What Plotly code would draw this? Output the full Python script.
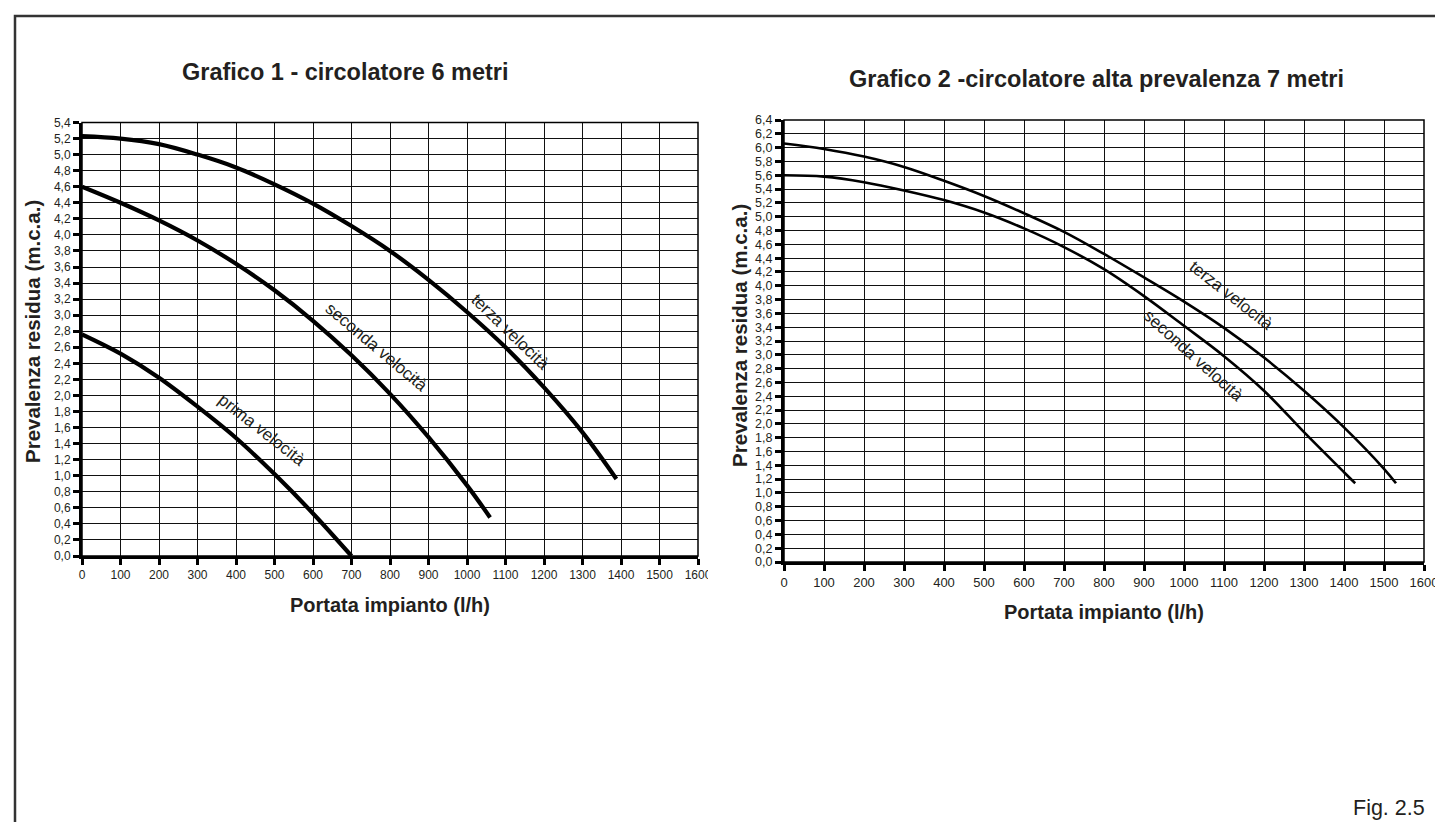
import plotly.graph_objects as go

W, H = 1443, 822

# ---------------- data ----------------
# Grafico 1 - circolatore 6 metri
g1_prima_x = [0, 100, 200, 300, 400, 500, 600, 700]
g1_prima_y = [2.76, 2.52, 2.22, 1.86, 1.47, 1.02, 0.53, 0.0]
g1_seconda_x = [0, 100, 200, 300, 400, 500, 600, 700, 800, 900, 1000, 1060]
g1_seconda_y = [4.60, 4.40, 4.18, 3.93, 3.64, 3.31, 2.93, 2.50, 2.02, 1.48, 0.88, 0.48]
g1_terza_x = [0, 100, 200, 300, 400, 500, 600, 700, 800, 900, 1000, 1100, 1200, 1300, 1388]
g1_terza_y = [5.23, 5.20, 5.13, 5.00, 4.84, 4.63, 4.39, 4.11, 3.80, 3.44, 3.04, 2.60, 2.10, 1.54, 0.96]

# Grafico 2 - circolatore alta prevalenza 7 metri
g2_seconda_x = [0, 100, 200, 300, 400, 500, 600, 700, 800, 900, 1000, 1100, 1200, 1300, 1400, 1428]
g2_seconda_y = [5.60, 5.58, 5.50, 5.38, 5.24, 5.06, 4.83, 4.56, 4.24, 3.85, 3.42, 2.98, 2.48, 1.88, 1.30, 1.14]
g2_terza_x = [0, 100, 200, 300, 400, 500, 600, 700, 800, 900, 1000, 1100, 1200, 1300, 1400, 1500, 1530]
g2_terza_y = [6.06, 5.98, 5.87, 5.72, 5.52, 5.30, 5.05, 4.78, 4.46, 4.12, 3.77, 3.39, 2.96, 2.48, 1.95, 1.35, 1.14]

# tick labels
x_tickvals = list(range(0, 1700, 100))
x_ticktext = [str(v) for v in x_tickvals]
y1_tickvals = [round(i * 0.2, 1) for i in range(28)]
y1_ticktext = [f"{v:.1f}".replace(".", ",") for v in y1_tickvals]
y2_tickvals = [round(i * 0.2, 1) for i in range(33)]
y2_ticktext = [f"{v:.1f}".replace(".", ",") for v in y2_tickvals]

# texts
title1 = "Grafico 1 - circolatore 6 metri"
title2 = "Grafico 2 -circolatore alta prevalenza 7 metri"
x_title = "Portata impianto (l/h)"
y_title = "Prevalenza residua (m.c.a.)"
fig_label = "Fig. 2.5"

# ---------------- style ----------------
FONT = "Liberation Sans, Arial, Helvetica, sans-serif"
TXT = "#231f20"


def px_x(p):
    return p / W


def px_y(p):
    return 1 - p / H


fig = go.Figure()

curve1 = dict(color="black", width=4.2, shape="spline", smoothing=1.0)
curve2 = dict(color="black", width=2.6, shape="spline", smoothing=1.0)

for xs, ys in [(g1_prima_x, g1_prima_y), (g1_seconda_x, g1_seconda_y), (g1_terza_x, g1_terza_y)]:
    fig.add_trace(go.Scatter(x=xs, y=ys, mode="lines", line=curve1,
                             xaxis="x", yaxis="y", showlegend=False, hoverinfo="skip"))
for xs, ys in [(g2_seconda_x, g2_seconda_y), (g2_terza_x, g2_terza_y)]:
    fig.add_trace(go.Scatter(x=xs, y=ys, mode="lines", line=curve2,
                             xaxis="x2", yaxis="y2", showlegend=False, hoverinfo="skip"))

common = dict(
    showgrid=True, gridcolor="#111111", gridwidth=1,
    showline=True, linecolor="black", linewidth=3,
    ticks="outside", ticklen=6, tickwidth=3, tickcolor="black",
    zeroline=False, fixedrange=True, automargin=False,
)

L_x0, L_x1, L_y0, L_y1 = 74, 690, 114.5, 548
R_x0, R_x1, R_y0, R_y1 = 776, 1416, 112, 554

fig.update_layout(
    width=W, height=H,
    margin=dict(l=0, r=0, t=0, b=0),
    paper_bgcolor="white", plot_bgcolor="white",
    showlegend=False,
    xaxis=dict(common, domain=[px_x(L_x0), px_x(L_x1)], range=[0, 1600],
               tickfont=dict(family=FONT, size=12, color=TXT),
               tickmode="array", tickvals=x_tickvals, ticktext=x_ticktext, anchor="y"),
    yaxis=dict(common, domain=[px_y(L_y1), px_y(L_y0)], range=[0, 5.4],
               tickfont=dict(family=FONT, size=12, color=TXT),
               tickmode="array", tickvals=y1_tickvals, ticktext=y1_ticktext, anchor="x"),
    xaxis2=dict(common, domain=[px_x(R_x0), px_x(R_x1)], range=[0, 1600],
                tickfont=dict(family=FONT, size=13, color=TXT),
                tickmode="array", tickvals=x_tickvals, ticktext=x_ticktext, anchor="y2"),
    yaxis2=dict(common, domain=[px_y(R_y1), px_y(R_y0)], range=[0, 6.4],
                tickfont=dict(family=FONT, size=12.5, color=TXT),
                tickmode="array", tickvals=y2_tickvals, ticktext=y2_ticktext, anchor="x2"),
)

shapes = [
    dict(type="rect", xref="x domain", yref="y domain", x0=0, x1=1, y0=0, y1=1,
         line=dict(color="black", width=1.5)),
    dict(type="rect", xref="x2 domain", yref="y2 domain", x0=0, x1=1, y0=0, y1=1,
         line=dict(color="black", width=1.5)),
    # clipped "1600" on the left chart
    dict(type="rect", xref="paper", yref="paper",
         x0=px_x(700), x1=px_x(716), y0=px_y(577), y1=px_y(556),
         fillcolor="white", line=dict(width=0), layer="above"),
    dict(type="rect", xref="paper", yref="paper",
         x0=px_x(7), x1=px_x(1438), y0=px_y(840), y1=px_y(8),
         line=dict(color="#333333", width=2.5)),
]
fig.update_layout(shapes=shapes)

ann = []


def paper_text(text, x, y, size, bold=False, angle=0, xanchor="center"):
    ann.append(dict(text=text, x=px_x(x), y=px_y(y), xref="paper", yref="paper",
                    xanchor=xanchor, yanchor="middle", showarrow=False, textangle=angle,
                    font=dict(family=FONT, size=size, color=TXT,
                              weight="bold" if bold else "normal")))


paper_text(title1, 337, 64, 23.5, bold=True)
paper_text(title2, 1088, 71, 23.5, bold=True)
paper_text(x_title, 382, 597, 20, bold=True)
paper_text(x_title, 1096, 604, 20, bold=True)
paper_text(y_title, 25, 324, 20.5, bold=True, angle=-90)
paper_text(y_title, 732, 328, 20.5, bold=True, angle=-90)
paper_text(fig_label, 1419, 800, 21.5, xanchor="right")


def curve_label(text, x, y, angle, xr, yr):
    ann.append(dict(text=text, x=x, y=y, xref=xr, yref=yr, showarrow=False,
                    textangle=angle, xanchor="center", yanchor="middle",
                    font=dict(family=FONT, size=17, color=TXT)))


curve_label("prima velocità", 465, 1.57, 38, "x", "y")
curve_label("seconda velocità", 766, 2.6, 40, "x", "y")
curve_label("terza velocità", 1114, 2.79, 44, "x", "y")
curve_label("terza velocità", 1118, 3.86, 38, "x2", "y2")
curve_label("seconda velocità", 1023, 2.99, 42, "x2", "y2")

fig.update_layout(annotations=ann)

fig.write_html("out.html")
